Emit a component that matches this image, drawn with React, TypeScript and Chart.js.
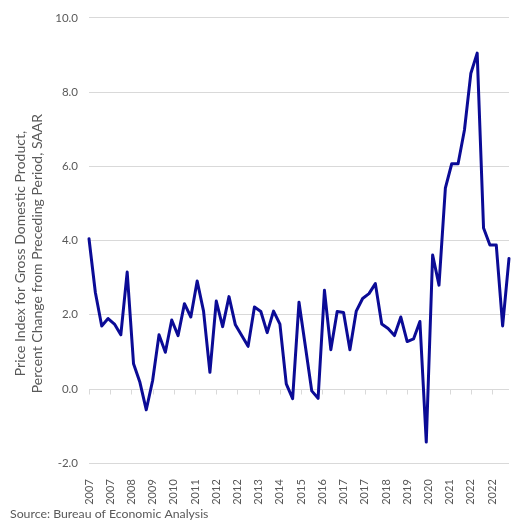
import React, { useEffect, useRef } from "react";
import { Chart, registerables } from "chart.js";

Chart.register(...registerables);

// Quarterly GDP price index, percent change from preceding period (SAAR), 2007 Q1 – 2023 Q3
const years = [2007, 2008, 2009, 2010, 2011, 2012, 2013, 2014, 2015, 2016, 2017, 2018, 2019, 2020, 2021, 2022, 2023];

const deflatorChange = [
  4.05, 2.6, 1.7, 1.9,
  1.75, 1.46, 3.15, 0.68,
  0.18, -0.56, 0.23, 1.46,
  0.99, 1.86, 1.44, 2.3,
  1.94, 2.91, 2.1, 0.45,
  2.37, 1.68, 2.49, 1.73,
  1.44, 1.15, 2.21, 2.09,
  1.52, 2.1, 1.75, 0.14,
  -0.26, 2.34, 1.15, -0.05,
  -0.25, 2.66, 1.06, 2.09,
  2.06, 1.06, 2.1, 2.44,
  2.57, 2.84, 1.75, 1.63,
  1.44, 1.94, 1.28, 1.35,
  1.82, -1.43, 3.61, 2.8,
  5.41, 6.07, 6.07, 6.98,
  8.5, 9.05, 4.34, 3.88,
  3.88, 1.7, 3.52,
];

// Axis labels as shown (one label every 10/3 quarters)
const axisYearLabels = [
  "2007", "2007", "2008", "2009", "2010", "2011", "2012", "2012", "2013", "2014",
  "2015", "2016", "2017", "2017", "2018", "2019", "2020", "2021", "2022", "2022",
];
const labelIntervalQuarters = 10 / 3;

const yTitle = [
  "Price Index for Gross Domestic Product,",
  "Percent Change from Preceding Period, SAAR",
];
const sourceText = "Source: Bureau of Economic Analysis";

const quarters: string[] = [];
years.forEach((yr) => [1, 2, 3, 4].forEach((q) => quarters.push(`${yr} Q${q}`)));

const FONT = "Lato, 'Noto Sans', sans-serif";
const TEXT = "#595959";
const GRID = "#d9d9d9";

const zeroAxisTicks = {
  id: "zeroAxisTicks",
  beforeDatasetsDraw(chart: any) {
    const { ctx, scales } = chart;
    const x = scales.x;
    const y = scales.y;
    const y0 = Math.round(y.getPixelForValue(0)) + 0.5;
    ctx.save();
    ctx.strokeStyle = GRID;
    ctx.lineWidth = 1;
    x.ticks.forEach((t: any) => {
      const px = Math.round(x.getPixelForValue(t.value)) + 0.5;
      ctx.beginPath();
      ctx.moveTo(px, y0);
      ctx.lineTo(px, y0 + 5);
      ctx.stroke();
    });
    ctx.restore();
  },
};

// Two-line rotated y-axis title, drawn a little below the plot's middle as in the original
const yAxisTitle = {
  id: "yAxisTitle",
  afterDraw(chart: any) {
    const { ctx, chartArea, scales } = chart;
    const yScale = scales.y;
    const cy = (chartArea.top + chartArea.bottom) / 2 + 13;
    const firstX = yScale.left + 20;
    const lineGap = 17;
    ctx.save();
    ctx.fillStyle = TEXT;
    ctx.font = `14px ${FONT}`;
    ctx.textAlign = "center";
    ctx.textBaseline = "middle";
    yTitle.forEach((line, i) => {
      ctx.save();
      ctx.translate(firstX + i * lineGap, cy);
      ctx.rotate(-Math.PI / 2);
      ctx.fillText(line, 0, 0);
      ctx.restore();
    });
    ctx.restore();
  },
};

const sourceIndent = {
  id: "sourceIndent",
  beforeDraw(chart: any) {
    const t = chart.titleBlock;
    if (t) t.left = 10;
  },
};

export default function App() {
  const ref = useRef<HTMLCanvasElement | null>(null);

  useEffect(() => {
    if (!ref.current) return;
    const n = deflatorChange.length;
    const chart = new Chart(ref.current, {
      type: "line",
      data: {
        datasets: [
          {
            label: "GDP price index",
            data: deflatorChange.map((v, i) => ({ x: i, y: v, q: quarters[i] })),
            borderColor: "#0b0b96",
            borderWidth: 3,
            pointRadius: 0,
            tension: 0,
            borderJoinStyle: "round",
            borderCapStyle: "round",
            fill: false,
            clip: 4,
          },
        ],
      },
      options: {
        animation: false,
        responsive: false,
        maintainAspectRatio: false,
        layout: { padding: { left: 0, right: 17, top: 16, bottom: 0 } },
        plugins: {
          legend: { display: false },
          tooltip: { enabled: false },
          title: {
            display: true,
            text: sourceText,
            position: "bottom",
            align: "start",
            color: TEXT,
            font: { family: FONT, size: 12.3, weight: "normal", lineHeight: 1.2 },
            padding: { top: 0, bottom: 5 },
          },
        },
        scales: {
          x: {
            type: "linear",
            min: 0,
            max: n - 1,
            grid: { display: false },
            border: { display: false },
            afterBuildTicks: (scale: any) => {
              scale.ticks = axisYearLabels.map((_, k) => ({ value: k * labelIntervalQuarters }));
            },
            afterFit: (scale: any) => {
              scale.height = 43;
            },
            ticks: {
              autoSkip: false,
              maxRotation: 90,
              minRotation: 90,
              padding: 8,
              color: TEXT,
              font: { family: FONT, size: 11 },
              callback: (_v: any, i: number) => axisYearLabels[i],
            },
          },
          y: {
            min: -2,
            max: 10,
            grid: { color: GRID, drawTicks: false, lineWidth: 1 },
            border: { display: false },
            afterFit: (scale: any) => {
              scale.width = 89;
            },
            ticks: {
              stepSize: 2,
              padding: 11,
              color: TEXT,
              font: { family: FONT, size: 11.5 },
              callback: (v: any) => Number(v).toFixed(1),
            },
            title: { display: false },
          },
        },
      },
      plugins: [zeroAxisTicks, yAxisTitle, sourceIndent],
    } as any);
    return () => chart.destroy();
  }, []);

  return (
    <div style={{ position: "absolute", left: 0, top: 0, width: 526, height: 526, background: "#fff" }}>
      <canvas ref={ref} width={526} height={526} style={{ display: "block", width: 526, height: 526 }} />
    </div>
  );
}
